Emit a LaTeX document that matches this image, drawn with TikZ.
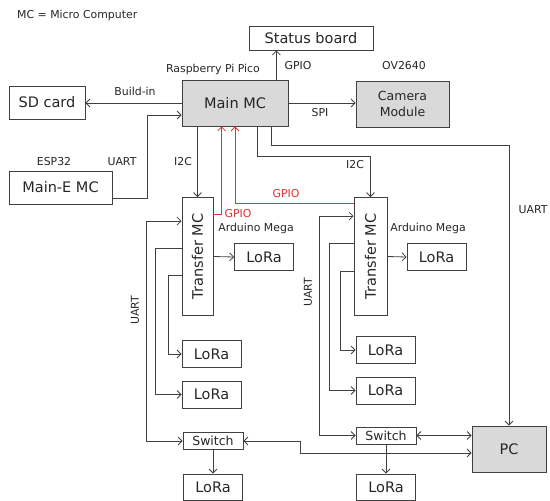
\documentclass[tikz,border=0pt]{standalone}
\usepackage{fontspec}
\setmainfont{DejaVu Sans}
\usepackage{xcolor}
\usepackage{tikz}
\usetikzlibrary{arrows.meta,positioning,calc}
\definecolor{linegray}{HTML}{404040}
\definecolor{boxgray}{HTML}{D9D9D9}
\definecolor{gpiored}{HTML}{E03030}

\begin{document}
\begin{tikzpicture}[
  x=1pt, y=-1pt,
  box/.style={draw=linegray, line width=0.8pt, align=center, inner sep=1pt,
              text=black!85, font=\fontsize{14.5}{17}\selectfont},
  g/.style={fill=boxgray},
  sm/.style={font=\fontsize{12.5}{15.5}\selectfont},
  lora/.style={box, minimum width=59pt, minimum height=27pt},
  sw/.style={box, sm, minimum width=60pt, minimum height=17pt},
  tmc/.style={box, minimum height=118pt},
  arr/.style={-{Straight Barb[length=4pt,width=8pt]}, line width=0.8pt, draw=linegray},
  darr/.style={{Straight Barb[length=4pt,width=8pt]}-{Straight Barb[length=4pt,width=8pt]},
               line width=0.8pt, draw=linegray},
  rarr/.style={arr, draw=gpiored},
  lbl/.style={font=\fontsize{10.9}{13}\selectfont, text=black!85, inner sep=0pt},
  rlbl/.style={lbl, text=gpiored}
]
\useasboundingbox (0,0) rectangle (550,501);

\node[lbl, anchor=west] (legend) at (17,15) {MC = Micro Computer};

% top row
\node[box, minimum width=124pt, minimum height=24pt] (stat) at (311,38) {Status board};
\node[box, g, minimum width=106pt, minimum height=46pt] (main) at (235,103) {Main MC};
\node[box, g, sm, minimum width=93pt, minimum height=46pt] (cam) at (402.5,104) {Camera\\Module};
\node[box, minimum width=76pt, minimum height=33pt] (sd) at (47,102.5) {SD card};
\node[box, minimum width=103pt, minimum height=33pt] (maine) at (60.5,187.5) {Main-E MC};

% transfer units
\node[tmc, minimum width=31pt] (tmc1) at (197.5,256.5) {\rotatebox{90}{Transfer MC}};
\node[tmc, minimum width=33pt] (tmc2) at (370.5,256.5) {\rotatebox{90}{Transfer MC}};
\node[lora] (lora1) at (264,257) {LoRa};
\node[lora] (lora2) at (436.5,257) {LoRa};

% left column
\node[lora] (loraA) at (211.5,354) {LoRa};
\node[lora] (loraB) at (211.5,394.5) {LoRa};
\node[sw] (sw1) at (213,441) {Switch};
\node[lora, minimum height=26pt] (loraC) at (213,487) {LoRa};

% right column
\node[lora] (loraD) at (385.5,350) {LoRa};
\node[lora] (loraE) at (385.5,390.5) {LoRa};
\node[sw] (sw2) at (386,435.5) {Switch};
\node[lora, minimum height=26pt] (loraF) at (386,487) {LoRa};
\node[box, g, minimum width=74pt, minimum height=46pt] (pc) at (509,449) {PC};

% labels
\node[lbl] (pico) at (213,69) {Raspberry Pi Pico};
\node[lbl] (ovlbl) at (404,66) {OV2640};
\node[lbl] (esp) at (54,162) {ESP32};
\node[lbl] (uart0) at (122,162) {UART};
\node[lbl] (build) at (135,91) {Build-in};
\node[lbl] (spi) at (320,113) {SPI};
\node[lbl] (gpio0) at (298,66) {GPIO};
\node[lbl] (i2c1) at (183,162) {I2C};
\node[lbl] (i2c2) at (355,165) {I2C};
\node[rlbl] (gpio1) at (238,214) {GPIO};
\node[rlbl] (gpio2) at (286,194) {GPIO};
\node[lbl] (uart3) at (533,210) {UART};
\node[lbl, rotate=90] (uart1) at (135,310) {UART};
\node[lbl, rotate=90] (uart2) at (308,292) {UART};
\node[lbl] (mega1) at (256,228) {Arduino Mega};
\node[lbl] (mega2) at (428,228) {Arduino Mega};

% main MC links
\draw[arr] ([xshift=-12pt]main.north east) -- ([xshift=-12pt]main.north east |- stat.south);
\draw[arr] (main.east) -- (main.east -| cam.west);
\draw[arr] (main.west) -- (main.west -| sd.east);
\draw[arr] ([yshift=6pt]maine.south east) -| (147,115) -- (main.west |- 147,115);
\draw[arr] (main.south -| tmc1.north) -- (tmc1.north);
\draw[arr] ($(main.south west)+(76,0)$) -- ++(0,30) -| (tmc2.north);
\draw[arr] ($(main.south west)+(90,0)$) -- ++(0,19) -| (pc.north);
\draw[rarr] ([yshift=-17pt]tmc1.north east) -| ($(main.south west)+(40,0)$);
\draw[rarr] ([yshift=-6pt]tmc2.north west) -| (main.south);

% left transfer unit
\draw[arr] (tmc1.east) -- (lora1.west);
\draw[darr] ([yshift=-24pt]tmc1.north west) -- ++(-35,0) |- (sw1.west);
\draw[arr] ([yshift=-51.5pt]tmc1.north west) -- ++(-26,0) |- (loraB.west);
\draw[arr] ([yshift=-78.5pt]tmc1.north west) -- ++(-13,0) |- (loraA.west);
\draw[arr] (sw1.south) -- (loraC.north);

% right transfer unit
\draw[arr] (tmc2.east) -- (lora2.west);
\draw[darr] ([yshift=-19pt]tmc2.north west) -- ++(-34,0) |- (sw2.west);
\draw[arr] ([yshift=-46pt]tmc2.north west) -- ++(-24,0) |- (loraE.west);
\draw[arr] ([yshift=-74pt]tmc2.north west) -- ++(-13,0) |- (loraD.west);
\draw[arr] (sw2.south) -- (loraF.north);

% PC links
\draw[darr] (sw2.east) -- (sw2.east -| pc.west);
\draw[darr] (sw1.east) -- ++(57,0) |- ([yshift=-4pt]pc.west);
\end{tikzpicture}
\end{document}
